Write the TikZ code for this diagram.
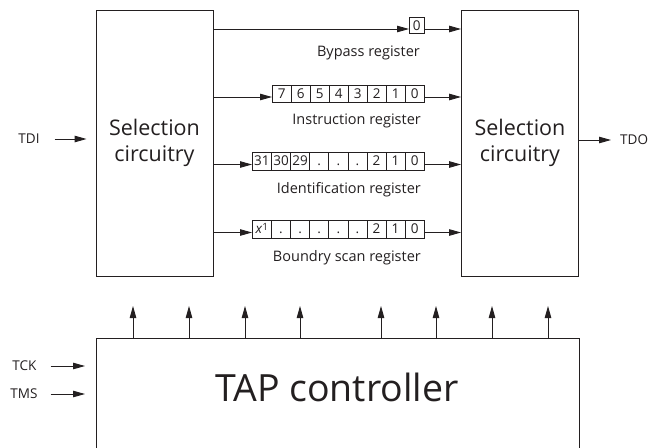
\documentclass[tikz,border=0pt]{standalone}
\usepackage{fontspec}
\setmainfont{Open Sans}
\usetikzlibrary{arrows.meta,calc}
\definecolor{ink}{HTML}{231F20}
\begin{document}
\begin{tikzpicture}[x=1pt,y=-1pt,
  box/.style={draw=ink, line width=0.9pt, inner sep=0pt, align=center, text=ink},
  selbox/.style={box, minimum width=117pt, minimum height=266pt, font=\fontsize{21.5}{26}\selectfont},
  cell/.style={draw=ink, line width=0.7pt, minimum width=19pt, minimum height=17pt, inner sep=0pt, anchor=west, text=ink, text height=10pt, text depth=1pt, font=\fontsize{13.5}{13.5}\selectfont},
  arr/.style={draw=ink, line width=0.9pt, -{Triangle[length=12pt,width=6.5pt]}},
  reglabel/.style={anchor=east, inner sep=0pt, text=ink, font=\fontsize{14.5}{14.5}\selectfont},
  sig/.style={inner sep=0pt, text=ink, font=\fontsize{13.5}{13.5}\selectfont}]
\useasboundingbox (0,0) rectangle (650,447);

% selection boxes
\node[selbox] (selL) at (154.5,143) {Selection\\circuitry};
\node[selbox] (selR) at (520,143) {Selection\\circuitry};

% TAP controller (bottom runs off the page)
\node[box, minimum width=483pt, minimum height=160pt, anchor=north west] (tap) at (96,338) {};
\node[text=ink, inner sep=0pt, font=\fontsize{37.5}{38}\selectfont] (taptext) at (337,387) {TAP controller};

% bypass register
\node[cell, minimum width=15pt, minimum height=16pt] (bp) at (409,25.5) {0};
\node[reglabel] (bpl) at (420,53) {Bypass register};

% instruction register
\foreach \t [count=\i] in {7,6,5,4,3,2,1,0}
  \node[cell] (ir\i) at ({272+19*(\i-1)},93.5) {\t};
\node[reglabel] (irl) at (421,121) {Instruction register};

% identification register
\foreach \t [count=\i] in {31,30,29,.,.,.,2,1,0}
  \node[cell, minimum width=19.1pt, minimum height=18pt] (id\i) at ({252+19.1*(\i-1)},161) {\t};
\node[reglabel] (idl) at (421,190) {Identification register};

% boundary scan register
\foreach \t [count=\i] in {{\textit{x}\raisebox{3.5pt}{\fontsize{10}{10}\selectfont 1}},.,.,.,.,.,2,1,0}
  \node[cell, minimum width=19.1pt, minimum height=18pt] (bs\i) at ({252+19.1*(\i-1)},229) {\t};
\node[reglabel] (bsl) at (421,258) {Boundry scan register};

% register connectors
\coordinate (bpi) at ([yshift=-3.5pt]bp.west);
\coordinate (bpo) at ([yshift=-3.5pt]bp.east);
\coordinate (iri) at ([yshift=-3.5pt]ir1.west);
\coordinate (iro) at ([yshift=-3.5pt]ir8.east);
\coordinate (idi) at ([yshift=-3.5pt]id1.west);
\coordinate (ido) at ([yshift=-3.5pt]id9.east);
\coordinate (bsi) at ([yshift=-3.5pt]bs1.west);
\coordinate (bso) at ([yshift=-3.5pt]bs9.east);
\foreach \a/\b in {bpi/bpo,iri/iro,idi/ido,bsi/bso} {
  \draw[arr] (selL.east |- \a) -- (\a);
  \draw[arr] (\b) -- (selR.west |- \b);
}

% external signals
\node[sig] (tdi) at (29,139) {TDI};
\draw[arr] ($(tdi.east)+(15,0)$) -- ($(selL.west |- tdi.east)+(-9,0)$);
\node[sig, anchor=west] (tdo) at (620,140) {TDO};
\draw[arr] (selR.east |- tdo.west) -- ($(tdo.west)+(-9,0)$);
\node[sig] (tck) at (24.5,366) {TCK};
\draw[arr] ($(tck.east)+(14,0)$) -- ($(tap.west |- tck.east)+(-11,0)$);
\node[sig] (tms) at (24,394) {TMS};
\draw[arr] ($(tms.east)+(13,0)$) -- ($(tap.west |- tms.east)+(-11,0)$);

% control outputs of the TAP controller
\foreach \x [count=\i] in {133,189,245,300,381,436,492,548} {
  \coordinate (u\i) at (\x,306);
  \draw[arr] (u\i |- tap.north) -- (u\i);
}
\end{tikzpicture}
\end{document}
